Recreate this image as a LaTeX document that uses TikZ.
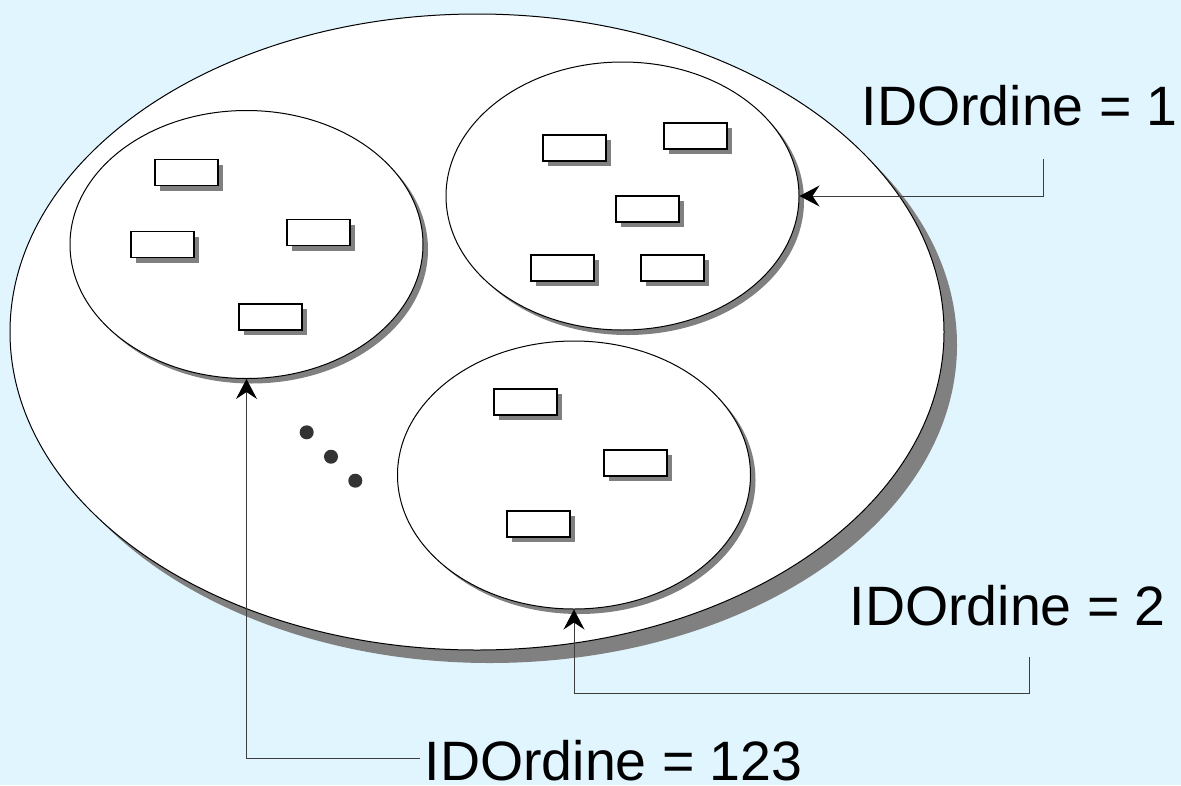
\documentclass[tikz,border=0pt]{standalone}
\usepackage{fontspec}
\setmainfont{Liberation Sans}
\usetikzlibrary{shapes.geometric,shadows,arrows.meta}
\definecolor{bgblue}{RGB}{225,245,255}
\definecolor{shadowgray}{RGB}{128,128,128}
\definecolor{dotgray}{RGB}{51,51,51}
\definecolor{linegray}{RGB}{60,60,60}
\tikzset{
  bigell/.style={ellipse, draw=black, line width=1pt, fill=white, inner sep=0pt,
    minimum width=934pt, minimum height=636pt,
    drop shadow={shadow xshift=13pt, shadow yshift=-13pt, opacity=1, fill=shadowgray}},
  subell/.style={ellipse, draw=black, line width=1pt, fill=white, inner sep=0pt,
    minimum width=353pt, minimum height=268pt,
    drop shadow={shadow xshift=5pt, shadow yshift=-5pt, opacity=1, fill=shadowgray}},
  item/.style={rectangle, draw=black, line width=1.3pt, fill=white, inner sep=0pt,
    minimum width=63pt, minimum height=26pt,
    drop shadow={shadow xshift=5pt, shadow yshift=-5pt, opacity=1, fill=shadowgray}},
  dotmark/.style={circle, fill=dotgray, inner sep=0pt, minimum size=14pt},
  conn/.style={draw=linegray, line width=1pt},
  arr/.style={-{Stealth[length=20pt, width=21pt, inset=7pt, color=black]}},
  lbl/.style={inner sep=0pt, anchor=base west, font=\fontsize{55.5}{60}\selectfont},
}
\begin{document}
\begin{tikzpicture}[x=1pt, y=-1pt]
  \fill[bgblue] (0,0) rectangle (1181,785);
  \useasboundingbox (0,0) rectangle (1181,785);

  \node[bigell] (B) at (477,332) {};

  \node[subell] (E3) at (246.5,244.5) {};
  \node[subell] (E1) at (622.5,196) {};
  \node[subell] (E2) at (574,475) {};

  % items in left ellipse
  \node[item] (l1) at (186.5,172.5) {};
  \node[item] (l2) at (162.5,244.5) {};
  \node[item] (l3) at (318.5,232.5) {};
  \node[item] (l4) at (270.5,317) {};
  % items in top-right ellipse
  \node[item] (r1) at (574.5,148) {};
  \node[item] (r2) at (695.5,136) {};
  \node[item] (r3) at (647.5,209) {};
  \node[item] (r4) at (562.5,268) {};
  \node[item] (r5) at (672.5,268) {};
  % items in bottom ellipse
  \node[item] (b1) at (525.5,402) {};
  \node[item] (b2) at (635.5,463) {};
  \node[item] (b3) at (538.5,524) {};

  % dots
  \node[dotmark] (d1) at (306.7,432.3) {};
  \node[dotmark] (d2) at (331,456.7) {};
  \node[dotmark] (d3) at (355.3,480.7) {};

  % labels
  \node[lbl] (t1) at (861.5,125) {IDOrdine = 1};
  \node[lbl] (t2) at (849.5,625) {IDOrdine = 2};
  \node[lbl] (t3) at (424.5,780) {IDOrdine = 123};

  % connectors
  \coordinate (c1) at (1043,159);
  \draw[conn, arr] (c1) |- (E1.east);
  \coordinate (c2) at (1029,657);
  \coordinate (k2) at (1029,693);
  \draw[conn, arr] (c2) -- (k2) -| (E2.south);
  \coordinate (c3) at (420,758);
  \draw[conn, arr] (c3) -| (E3.south);
\end{tikzpicture}
\end{document}
